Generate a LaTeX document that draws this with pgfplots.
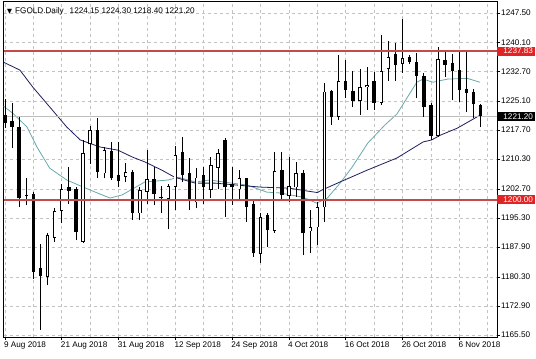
\documentclass[border=0pt]{standalone}
\usepackage{pgfplots}
\pgfplotsset{compat=1.18}
\usepackage{pgfplotstable}
\usepackage{fontspec}
\setmainfont{Liberation Sans}
\newfontfamily\dejavu{DejaVu Sans}
\definecolor{navyma}{RGB}{30,30,95}
\definecolor{tealma}{RGB}{105,170,170}
\definecolor{levelred}{RGB}{195,75,75}
\definecolor{lvlbox}{RGB}{225,35,35}
\definecolor{gridc}{RGB}{195,195,195}
\definecolor{curline}{RGB}{190,190,190}

\pgfplotstableread{
i o h l c
6 1180.4 1191.5 1178.2 1191.0
7 1190.3 1197.8 1189.3 1197.1
8 1197.2 1204.0 1194.1 1202.6
11 1189.3 1215.2 1188.9 1211.8
12 1214.1 1218.7 1209.2 1217.7
14 1206.7 1213.5 1205.4 1212.6
17 1205.8 1209.4 1204.5 1207.1
19 1196.5 1203.3 1194.8 1202.4
20 1202.0 1212.6 1199.0 1205.2
23 1200.1 1204.0 1192.4 1203.4
24 1203.3 1213.6 1197.3 1211.3
27 1199.3 1208.0 1197.8 1205.6
29 1202.4 1210.9 1200.3 1208.8
30 1208.0 1212.8 1202.6 1211.8
33 1202.6 1207.5 1199.9 1205.4
36 1186.1 1196.5 1183.9 1195.5
38 1192.1 1212.2 1191.5 1207.3
40 1200.9 1210.8 1199.5 1203.4
41 1203.1 1209.6 1200.7 1206.8
43 1191.9 1197.3 1186.3 1192.9
44 1192.9 1199.5 1188.4 1198.0
45 1198.0 1229.8 1194.4 1227.5
47 1221.0 1236.8 1220.3 1230.2
50 1225.2 1233.4 1221.5 1228.6
51 1228.6 1233.8 1222.8 1229.2
53 1224.7 1241.9 1224.1 1232.8
54 1233.2 1240.4 1230.3 1236.4
56 1234.5 1245.9 1232.3 1236.0
61 1216.2 1238.9 1216.0 1235.7
}\bull

\pgfplotstableread{
i o h l c
0 1221.5 1225.6 1218.2 1219.5
1 1220.0 1224.6 1213.1 1218.5
2 1218.5 1221.0 1198.2 1200.4
3 1201.3 1205.5 1198.6 1201.0
4 1201.4 1201.9 1179.8 1181.6
5 1182.5 1188.8 1166.8 1180.5
9 1203.1 1208.4 1199.0 1202.2
10 1202.6 1203.3 1189.7 1191.8
13 1217.7 1220.7 1205.4 1207.0
15 1212.4 1214.7 1205.0 1205.4
16 1206.3 1214.6 1203.3 1204.7
18 1207.1 1207.5 1194.8 1196.7
21 1205.2 1208.4 1198.6 1201.4
22 1200.6 1203.4 1196.5 1200.4
25 1212.2 1216.0 1204.5 1206.2
26 1206.7 1210.5 1197.3 1199.8
28 1206.3 1208.4 1199.0 1203.1
31 1215.3 1215.6 1195.6 1203.1
32 1204.0 1208.4 1198.6 1203.1
34 1205.4 1205.6 1194.4 1198.2
35 1198.9 1199.9 1185.5 1186.3
37 1196.1 1196.5 1188.0 1192.2
39 1207.5 1212.2 1199.9 1201.2
42 1206.7 1207.5 1185.9 1191.4
46 1227.7 1227.8 1219.0 1221.0
48 1230.2 1235.5 1226.0 1227.9
49 1227.7 1232.7 1223.5 1225.2
52 1230.3 1232.6 1222.8 1224.5
55 1237.2 1239.8 1230.3 1234.3
57 1236.4 1236.8 1234.5 1235.1
58 1235.1 1237.4 1225.8 1231.5
59 1231.5 1232.2 1221.1 1223.6
60 1224.1 1224.5 1215.2 1216.2
62 1235.5 1238.1 1231.3 1234.3
63 1234.7 1237.2 1225.3 1232.7
64 1233.0 1237.6 1224.9 1227.9
65 1228.3 1237.6 1222.4 1227.2
66 1227.5 1228.1 1220.7 1224.3
67 1224.15 1224.30 1218.40 1221.20
}\bear

\begin{document}
\begin{tikzpicture}[x=1bp,y=1bp]
\path[use as bounding box, fill=white] (-3.5,-21) rectangle (532.5,337);
\begin{axis}[
  at={(0,0)}, anchor=south west,
  scale only axis, width=493.5bp, height=336bp,
  xmin=-0.21, xmax=69.3, ymin=1165.0, ymax=1250.6,
  axis line style={black, line width=0.8bp},
  font=\fontsize{8.2}{9.5}\selectfont,
  tick align=outside,
  major tick length=3bp, minor tick length=0bp,
  tick style={black, line width=0.6bp},
  xtick pos=bottom, ytick pos=right,
  ytick={1165.5,1172.9,1180.3,1187.9,1195.3,1202.7,1210.3,1217.7,1225.1,1232.7,1240.1,1247.5},
  yticklabel pos=right,
  yticklabel style={anchor=west, inner sep=0pt, xshift=1bp,
    /pgf/number format/.cd, fixed, fixed zerofill, precision=2, 1000 sep={}, assume math mode=true},
  xtick={0,8,...,64},
  xticklabels={9 Aug 2018,21 Aug 2018,31 Aug 2018,12 Sep 2018,24 Sep 2018,4 Oct 2018,16 Oct 2018,26 Oct 2018,6 Nov 2018},
  xticklabel style={anchor=north west, inner sep=0pt, xshift=-1bp, yshift=-2bp},
  minor xtick={4,12,...,68},
  xmajorgrids, ymajorgrids, xminorgrids,
  major grid style={gridc, dash pattern=on 3bp off 3bp, line width=0.6bp},
  minor grid style={gridc, dash pattern=on 3bp off 3bp, line width=0.6bp},
  candle/.style={draw=none, mark=none, forget plot, error bars/.cd, y dir=plus, y explicit, error mark=none},
]
% moving averages
\addplot[color=tealma, line width=0.8bp] coordinates {
(-0.2,1223.8) (1.1,1222.0) (3.1,1218.5) (4.5,1213.4) (6.3,1208.0) (8.7,1205.0)
(11,1203.2) (13,1201.7) (14.8,1200.4) (16.5,1201.2) (19.7,1204.5) (23,1205.0)
(24.4,1205.7) (26.8,1204.5) (28.9,1205.0) (30.7,1204.5) (34.1,1203.7) (36.9,1201.9)
(38.7,1201.7) (42,1200.6) (43.9,1199.1) (45.4,1200.4) (47.2,1204.2) (48.9,1208.3)
(51.1,1214.4) (53.5,1219.0) (55.2,1221.8) (58,1229.9) (58.9,1230.7) (60.3,1229.9)
(62.3,1230.7) (65.1,1230.9) (66.9,1229.9)};
\addplot[color=navyma, line width=0.8bp] coordinates {
(-0.2,1235.0) (2.1,1233.0) (3.9,1228.7) (6.3,1223.6) (8.7,1218.5) (10.6,1215.2)
(13.4,1213.4) (15.9,1212.6) (18,1210.8) (19.7,1209.6) (22.1,1207.5) (23.9,1205.7)
(26.8,1204.2) (29.6,1204.2) (32.7,1203.7) (35.9,1203.2) (40.1,1202.9) (41.8,1202.4)
(44,1201.8) (44.6,1202.4) (47.2,1204.5) (51,1207.5) (55.2,1210.6) (58.9,1214.7)
(60.1,1215.2) (61.3,1216.4) (63.7,1218.2) (66.9,1221.5)};
% current price line
\addplot[color=curline, line width=0.8bp] coordinates {(-0.21,1221.2) (69.3,1221.2)};
% wicks
\addplot[candle, error bar style={draw=black, solid, line width=0.8bp}]
  table[x=i, y=l, y error expr=\thisrow{h}-\thisrow{l}] {\bull};
\addplot[candle, error bar style={draw=black, solid, line width=0.8bp}]
  table[x=i, y=l, y error expr=\thisrow{h}-\thisrow{l}] {\bear};
% bodies
\addplot[candle, error bar style={draw=black, solid, line width=3.4bp}]
  table[x=i, y=c, y error expr=\thisrow{o}-\thisrow{c}] {\bear};
\addplot[candle, error bar style={draw=black, solid, line width=3.4bp}]
  table[x=i, y=o, y error expr=\thisrow{c}-\thisrow{o}] {\bull};
\addplot[candle, error bar style={draw=white, solid, line width=1.8bp, shorten <=0.8bp, shorten >=0.8bp}]
  table[x=i, y=o, y error expr=\thisrow{c}-\thisrow{o}] {\bull};
\end{axis}
\begin{axis}[
  at={(0,0)}, anchor=south west,
  scale only axis, width=493.5bp, height=336bp,
  xmin=-0.21, xmax=69.3, ymin=1165.0, ymax=1250.6,
  hide axis,
]
\addplot[draw=levelred, line width=2bp] coordinates {(-0.21,1237.83) (69.3,1237.83)};
\addplot[draw=levelred, line width=2bp] coordinates {(-0.21,1200.0) (69.3,1200.0)};
\coordinate (la) at (axis cs:69.3,1237.83);
\coordinate (lb) at (axis cs:69.3,1221.2);
\coordinate (lc) at (axis cs:69.3,1200.0);
\end{axis}
\tikzset{pbox/.style={anchor=west, inner sep=0pt, minimum width=38bp, minimum height=9bp, text=white, font=\fontsize{8.2}{9.5}\selectfont}}
\node[pbox, fill=lvlbox] at (la) {\hspace*{4bp}1237.83\hfill};
\node[pbox, fill=black] at (lb) {\hspace*{4bp}1221.20\hfill};
\node[pbox, fill=lvlbox] at (lc) {\hspace*{4bp}1200.00\hfill};
\node[anchor=west, inner sep=0pt, font=\fontsize{8.2}{9.5}\selectfont] at (3.5,325.5)
  {{\dejavu\fontsize{6.5}{7}\selectfont ▼}\hspace{3bp}FGOLD.Daily\hspace{6bp}1224.15 1224.30 1218.40 1221.20};
\end{tikzpicture}
\end{document}
